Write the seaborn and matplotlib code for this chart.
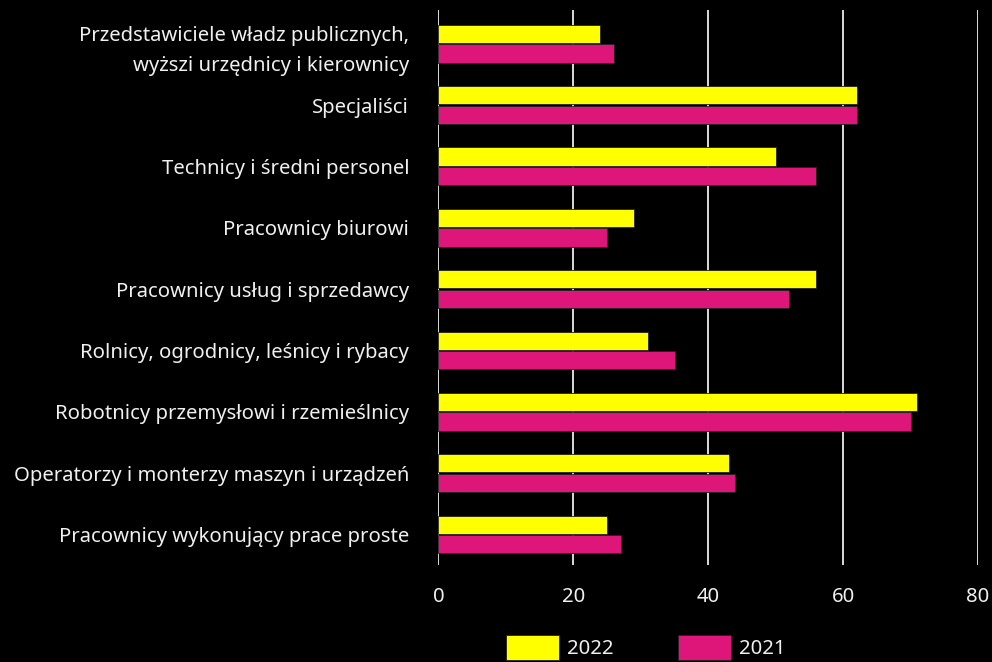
import numpy as np
import pandas as pd
import matplotlib
matplotlib.use("Agg")
import matplotlib.pyplot as plt
import seaborn as sns

# data
categories = [
    "Przedstawiciele władz publicznych,\nwyższi urzędnicy i kierownicy",
    "Specjaliści",
    "Technicy i średni personel",
    "Pracownicy biurowi",
    "Pracownicy usług i sprzedawcy",
    "Rolnicy, ogrodnicy, leśnicy i rybacy",
    "Robotnicy przemysłowi i rzemieślnicy",
    "Operatorzy i monterzy maszyn i urządzeń",
    "Pracownicy wykonujący prace proste",
]
values_2022 = [24, 62, 50, 29, 56, 31, 71, 43, 25]
values_2021 = [26, 62, 56, 25, 52, 35, 70, 44, 27]
years = ["2022", "2021"]
x_ticks = [0, 20, 40, 60, 80]

df = pd.DataFrame({
    "kategoria": categories * 2,
    "wartosc": values_2022 + values_2021,
    "rok": [years[0]] * len(categories) + [years[1]] * len(categories),
})

sns.set_theme(style="dark")
plt.rcParams['font.family'] = ['Noto Sans', 'DejaVu Sans']
txt = "#f0f0f0"
fs = 14.6

fig = plt.figure(figsize=(9.92, 6.62), dpi=100, facecolor="black")
ax = fig.add_axes([0.442, 0.1465, 0.544, 0.8385])
ax.set_facecolor("black")

# grid behind bars
ax.set_axisbelow(True)
ax.grid(axis="x", color="white", linewidth=1.2)
ax.grid(axis="y", visible=False)

sns.barplot(data=df, y="kategoria", x="wartosc", hue="rok", orient="h",
            palette={"2022": "#FFFF00", "2021": "#DF1679"}, saturation=1,
            width=0.64, gap=0.08, edgecolor="#222222", linewidth=0.6,
            ax=ax, legend=True)

ax.set_xlim(0, 80)
ax.set_ylim(8.5, -0.55)
ax.set_xticks(x_ticks)
ax.set_xlabel("")
ax.set_ylabel("")
for s in ax.spines.values():
    s.set_visible(False)
ax.tick_params(axis="x", colors=txt, labelsize=fs, length=0, pad=16)
ax.tick_params(axis="y", colors=txt, labelsize=fs, length=0, pad=21)
for lab in ax.get_yticklabels():
    lab.set_linespacing(1.65)

leg = ax.legend(loc="upper left", bbox_to_anchor=(506 / 992, 1 - 635 / 662),
                bbox_transform=fig.transFigure, ncol=2, frameon=False,
                borderpad=0, borderaxespad=0,
                fontsize=fs, handlelength=2.6, handleheight=1.5,
                columnspacing=3.2, handletextpad=0.4, labelcolor=txt)

fig.savefig("out.png", dpi=100, facecolor="black")
